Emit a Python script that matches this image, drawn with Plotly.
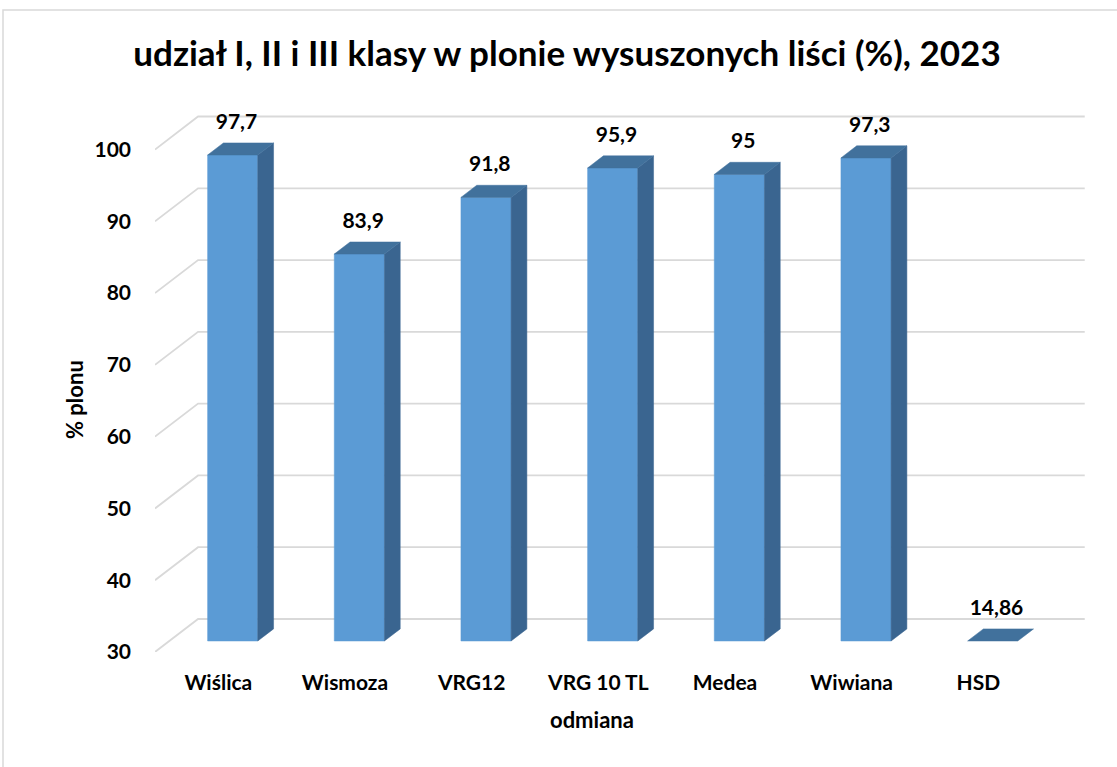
import plotly.graph_objects as go

# ---- data ----
categories = ["Wiślica", "Wismoza", "VRG12", "VRG 10 TL", "Medea", "Wiwiana", "HSD"]
values = [97.7, 83.9, 91.8, 95.9, 95.0, 97.3, 14.86]
value_labels = ["97,7", "83,9", "91,8", "95,9", "95", "97,3", "14,86"]
y_ticks = [30, 40, 50, 60, 70, 80, 90, 100]

title_text = "udział I, II i III klasy w plonie wysuszonych liści (%), 2023"
y_title = "% plonu"
x_title = "odmiana"

# ---- style / projection settings ----
FLOOR = 30
DX, DY = 0.34, 4.6        # full-depth oblique offset (category units, value units)
D1, D2 = 1 / 3, 0.70      # bar depth range
W = 0.198                 # half bar width
X0, X1 = -0.5, 7.0
XBACK = 6.84
Y_TOP = 106.9
FRONT = "#5B9BD5"
TOP = "#41719C"
SIDE = "#3A6590"
GRID = "#D9D9D9"
FONT = "Lato"

fig = go.Figure()

# back-wall gridlines with left diagonals
for v in y_ticks:
    fig.add_trace(go.Scatter(
        x=[X0, X0 + DX, XBACK], y=[v, v + DY, v + DY],
        mode="lines", line=dict(color=GRID, width=1.8),
        hoverinfo="skip", showlegend=False))

xs = list(range(len(categories)))
vv = [max(v, FLOOR) for v in values]


def poly(px, py, color):
    fig.add_trace(go.Scatter(x=px + [px[0]], y=py + [py[0]], fill="toself", fillcolor=color,
                             mode="lines", line=dict(width=0.5, color=color),
                             hoverinfo="skip", showlegend=False))


for c, v in zip(xs, vv):
    xl, xr = c - W, c + W
    if v > FLOOR:
        # front face
        poly([xl + D1 * DX, xr + D1 * DX, xr + D1 * DX, xl + D1 * DX],
             [FLOOR + D1 * DY, FLOOR + D1 * DY, v + D1 * DY, v + D1 * DY], FRONT)
        # side face
        poly([xr + D1 * DX, xr + D2 * DX, xr + D2 * DX, xr + D1 * DX],
             [FLOOR + D1 * DY, FLOOR + D2 * DY, v + D2 * DY, v + D1 * DY], SIDE)
    # top face
    poly([xl + D1 * DX, xr + D1 * DX, xr + D2 * DX, xl + D2 * DX],
         [v + D1 * DY, v + D1 * DY, v + D2 * DY, v + D2 * DY], TOP)

# value labels
fig.add_trace(go.Scatter(
    x=[c + D1 * DX + 0.03 for c in xs],
    y=[v + D1 * DY + 4.4 for v in vv],
    mode="text", text=["<b>%s</b>" % t for t in value_labels], textposition="middle center",
    textfont=dict(family=FONT, size=21, color="#000000"),
    hoverinfo="skip", showlegend=False))

fig.update_layout(
    width=1117, height=767,
    margin=dict(l=155, r=12, t=100, b=115),
    paper_bgcolor="white", plot_bgcolor="white",
    font=dict(family=FONT, color="#000000"),
    title=dict(text="<b>" + title_text + "</b>", x=(567 - 155) / 950, xref="paper", xanchor="center",
               y=1 - 54 / 767, yanchor="middle",
               font=dict(family=FONT, size=35, color="#000000")),
    xaxis=dict(range=[X0, X1], tickvals=xs, ticktext=["<b>%s</b>" % c for c in categories],
               showgrid=False, zeroline=False, showline=False, ticks="",
               tickfont=dict(family=FONT, size=21), ticklabelstandoff=16, fixedrange=True),
    yaxis=dict(range=[FLOOR, Y_TOP], tickvals=y_ticks, ticktext=["<b>%d</b>" % t for t in y_ticks],
               showgrid=False, zeroline=False, showline=False, ticks="",
               tickfont=dict(family=FONT, size=21), ticklabelstandoff=23, fixedrange=True),
    annotations=[
        dict(text="<b>" + y_title + "</b>", xref="paper", yref="paper",
             x=(74 - 155) / 950, y=(652 - 400) / 552,
             xanchor="center", yanchor="middle", textangle=-90, showarrow=False,
             font=dict(family=FONT, size=22)),
        dict(text="<b>" + x_title + "</b>", xref="paper", yref="paper",
             x=(592 - 155) / 950, y=(652 - 719) / 552,
             xanchor="center", yanchor="middle", showarrow=False,
             font=dict(family=FONT, size=22)),
    ],
    shapes=[dict(type="rect", xref="paper", yref="paper",
                 x0=(3 - 155) / 950, x1=(1125 - 155) / 950,
                 y0=(652 - 775) / 552, y1=(652 - 10) / 552,
                 line=dict(color="#D9D9D9", width=1.5), fillcolor="rgba(0,0,0,0)", layer="below")],
)

fig.write_html("out.html", config={"displayModeBar": False},
               post_script="document.body.style.margin='0';")
